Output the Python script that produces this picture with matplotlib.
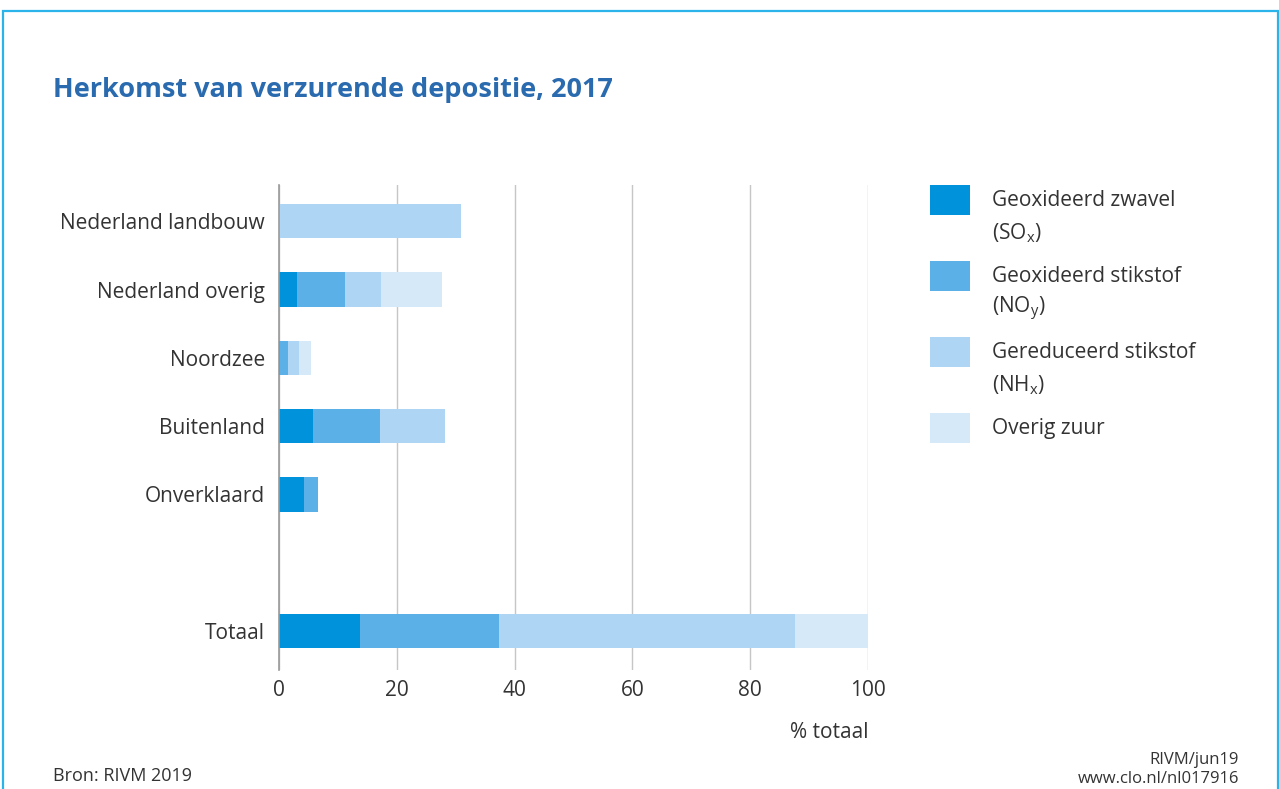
"""
plot.py – Herkomst van verzurende depositie, 2017 (RIVM / CLO)
Horizontal stacked bars, share of total acidifying deposition per source.
"""

import numpy as np
import matplotlib
matplotlib.use("Agg")
import matplotlib.pyplot as plt
from matplotlib.patches import Rectangle

plt.rcParams["font.family"] = ["Open Sans", "DejaVu Sans"]

# ──────────────────────────────────────────────
# Data (% of total deposition)
# ──────────────────────────────────────────────
categories = ["Nederland landbouw", "Nederland overig", "Noordzee",
              "Buitenland", "Onverklaard", "Totaal"]
positions = [0, 1, 2, 3, 4, 6]          # gap before "Totaal"

sox = [0.0, 3.0, 0.2, 5.8, 4.3, 13.8]
noy = [0.0, 8.2, 1.3, 11.3, 2.3, 23.5]
nhx = [30.9, 6.2, 1.9, 11.1, 0.0, 50.3]
overig = [0.0, 10.3, 2.1, 0.0, 0.0, 12.4]

series_labels = ["Geoxideerd zwavel\n(SO$_\\mathregular{x}$)",
                 "Geoxideerd stikstof\n(NO$_\\mathregular{y}$)",
                 "Gereduceerd stikstof\n(NH$_\\mathregular{x}$)",
                 "Overig zuur"]
series_colors = ["#0092da", "#5cb0e8", "#afd5f4", "#d6e9f9"]

xticks = [0, 20, 40, 60, 80, 100]

TEXT = "#333333"
TITLE = "#2a6aae"
FS = 15

# ──────────────────────────────────────────────
# Figure
# ──────────────────────────────────────────────
W, H = 1279, 789
fig = plt.figure(figsize=(W / 100, H / 100), dpi=100)
fig.patch.set_facecolor("white")

# light blue frame around the graphic
fig.patches.append(Rectangle((2.5 / W, -0.02), (W - 4) / W, 1.02 - 10.5 / H,
                             transform=fig.transFigure, fill=False,
                             edgecolor="#2ab4e9", linewidth=1.6))

ax = fig.add_axes([279 / W, 1 - 670 / H, (868 - 279) / W, (670 - 185) / H])

left = np.zeros(len(categories))
for vals, lab, col in zip([sox, noy, nhx, overig], series_labels, series_colors):
    ax.barh(positions, vals, left=left, height=0.5, color=col,
            label=lab, linewidth=0, zorder=3)
    left += np.array(vals)

ax.set_xlim(0, 100)
ax.set_ylim(6.57, -0.53)
ax.set_xticks(xticks)
ax.set_yticks(positions)
ax.set_yticklabels(categories)
ax.tick_params(axis="both", length=0, labelsize=FS, colors=TEXT)
ax.tick_params(axis="x", pad=7)
ax.tick_params(axis="y", pad=10)

ax.grid(axis="x", color="#c6c6c6", linewidth=1, zorder=0)
for s in ["top", "right", "bottom"]:
    ax.spines[s].set_visible(False)
ax.spines["left"].set_color("#9a9a9a")
ax.spines["left"].set_linewidth(1.2)
ax.spines["left"].set_zorder(4)

fig.text(868 / W, 1 - 733 / H, "% totaal", ha="right", va="center",
         fontsize=FS, color=TEXT)

# legend (drawn by hand: squares + two-line labels)
for i, (lab, col) in enumerate(zip(series_labels, series_colors)):
    top = 185 + 76 * i
    fig.patches.append(Rectangle((930 / W, 1 - (top + 30) / H), 40 / W, 30 / H,
                                 transform=fig.transFigure, color=col,
                                 linewidth=0))
    for j, line in enumerate(lab.split("\n")):
        fig.text(992 / W, 1 - (top + 15 + 33 * j) / H, line, fontsize=FS,
                 color=TEXT, va="center")

# title + footer
fig.text(53 / W, 1 - 90 / H, "Herkomst van verzurende depositie, 2017",
         fontsize=19.5, fontweight="bold", color=TITLE, va="center")
fig.text(53 / W, 1 - 776 / H, "Bron: RIVM 2019", fontsize=13, color=TEXT,
         va="center")
fig.text(1239 / W, 1 - 760 / H, "RIVM/jun19", fontsize=12, color=TEXT,
         ha="right", va="center")
fig.text(1239 / W, 1 - 779 / H, "www.clo.nl/nl017916", fontsize=12,
         color=TEXT, ha="right", va="center")

fig.savefig("out.png", dpi=100)
